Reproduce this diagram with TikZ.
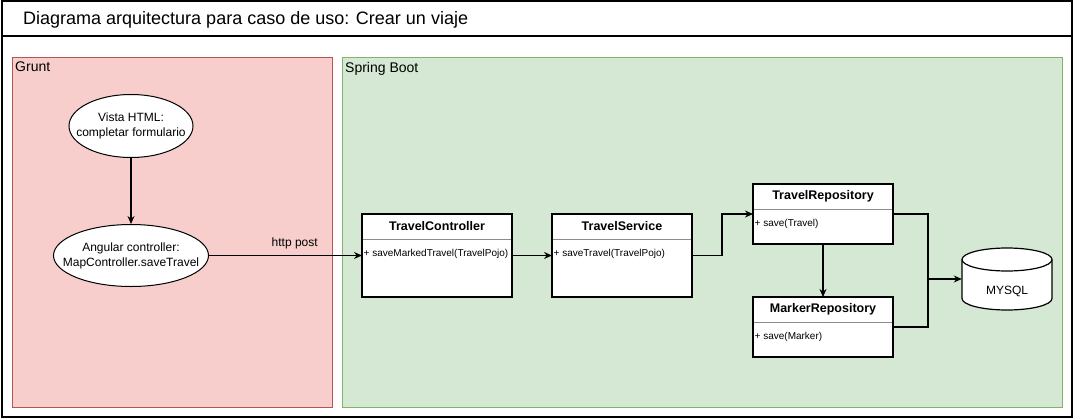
\documentclass[tikz,border=0pt]{standalone}
\usepackage{fontspec}
\setmainfont{Liberation Sans}
\usetikzlibrary{shapes.geometric,arrows.meta,calc}
\definecolor{redfill}{HTML}{F8CECC}
\definecolor{redline}{HTML}{B85450}
\definecolor{greenfill}{HTML}{D5E8D4}
\definecolor{greenline}{HTML}{82B366}
\begin{document}
\begin{tikzpicture}[x=1pt,y=-1pt,
  txt/.style={font=\fontsize{12}{14}\selectfont, inner sep=0pt},
  grp/.style={draw=#1line, fill=#1fill, line width=1pt, anchor=north west, inner sep=0pt, outer sep=0pt},
  grplabel/.style={font=\fontsize{14}{16}\selectfont, inner sep=0pt, anchor=north west},
  ell/.style={ellipse, draw, fill=white, line width=1pt, align=center, inner ysep=0pt,
    font=\fontsize{12}{14}\selectfont},
  cls/.style={draw, fill=white, line width=1.2pt, anchor=north west, inner sep=0pt, outer sep=0pt,
    minimum height=#1},
  clshead/.style={font=\bfseries\fontsize{12.5}{14}\selectfont, inner sep=0pt},
  meth/.style={font=\fontsize{10}{12}\selectfont, inner sep=0pt, anchor=west},
  divider/.style={draw=black!45, line width=0.8pt},
  arr/.style={draw, line width=1.2pt, -{Stealth[length=8pt,width=7pt]}},
  conn/.style={draw, line width=1.2pt}
]
\useasboundingbox (0,0) rectangle (1074,418);
% frame and title
\draw[line width=1.5pt] (2,1) rectangle (1072,417);
\draw[line width=1.5pt] (2,36) -- (1072,36);
\node[anchor=west, inner sep=0pt, font=\fontsize{18}{20}\selectfont] (title) at (23,19.5)
  {Diagrama arquitectura para caso de uso: Crear un viaje};
% groups
\node[grp=red, minimum width=320pt, minimum height=350pt] (grunt) at (12,57) {};
\node[grplabel] (gruntlabel) at ($(grunt.north west)+(3,5)$) {Grunt};
\node[grp=green, minimum width=720pt, minimum height=350pt] (spring) at (342,57) {};
\node[grplabel] (springlabel) at ($(spring.north west)+(3,5)$) {Spring Boot};
% ellipses
\node[ell, inner xsep=-11pt, minimum width=124pt, minimum height=63pt] (vista) at (131,126)
  {Vista HTML:\\[1pt]completar formulario};
\node[ell, inner xsep=-16pt, minimum width=155pt, minimum height=62pt] (ang) at (131,255.5)
  {Angular controller:\\[1pt]MapController.saveTravel};
% classes
\node[cls=83pt, minimum width=150pt] (tc) at (362,214) {};
\node[cls=83pt, minimum width=140pt] (ts) at (552,214) {};
\node[cls=60pt, minimum width=140pt] (tr) at (753,184) {};
\node[cls=60pt, minimum width=140pt] (mr) at (753,297) {};
\foreach \c/\t/\m in {tc/TravelController/{+ saveMarkedTravel(TravelPojo)},
                      ts/TravelService/{+ saveTravel(TravelPojo)},
                      tr/TravelRepository/{+ save(Travel)},
                      mr/MarkerRepository/{+ save(Marker)}}{
  \node[clshead] (\c head) at ($(\c.north)+(0,12.5)$) {\t};
  \draw[divider] ($(\c.north west)+(0.6,25)$) -- ($(\c.north east)+(-0.6,25)$);
  \node[meth] (\c meth) at ($(\c.north west)+(1.5,40)$) {\m};
}
% database
\node[inner sep=0pt, minimum width=90pt, minimum height=62pt] (db) at (1007,279) {};
\draw[line width=1.2pt, fill=white] (962,259.5) -- (962,298.5)
  arc[start angle=180, end angle=360, x radius=45pt, y radius=11.5pt] -- (1052,259.5)
  arc[start angle=0, end angle=180, x radius=45pt, y radius=11.5pt] -- cycle;
\draw[line width=1.2pt] (962,259.5) arc[start angle=180, end angle=360, x radius=45pt, y radius=11.5pt];
\node[txt] (dblabel) at (1007,291) {MYSQL};
% connectors
\draw[arr] (vista.south) -- (ang.north);
\draw[arr] (ang.east) -- node[txt, above=6pt, pos=0.56] (httplabel) {http post} (tc.west);
\draw[arr] (tc.east) -- (ts.west);
\draw[arr] (ts.east) -- ($(ts.east)+(30,0)$) |- (tr.west);
\draw[arr] (tr.south) -- (mr.north);
\coordinate (join) at (928,279);
\draw[conn] (tr.east) -| (join);
\draw[conn] (mr.east) -| (join);
\draw[arr] (join) -- (db.west);
\end{tikzpicture}
\end{document}
